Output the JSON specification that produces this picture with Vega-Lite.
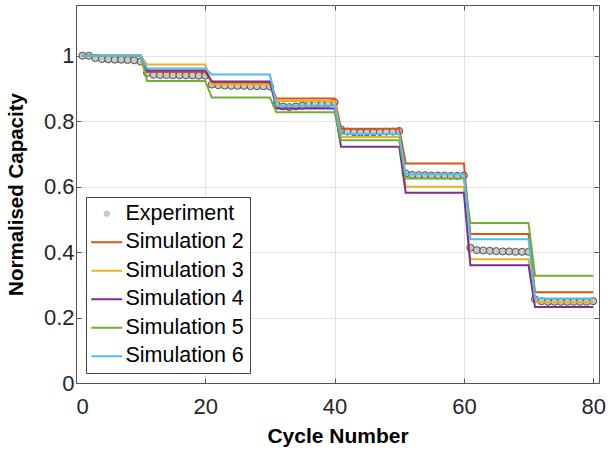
{
  "$schema": "https://vega.github.io/schema/vega-lite/v6.json",
  "width": 523,
  "height": 378,
  "autosize": "none",
  "padding": {"left": 76, "top": 5, "right": 9, "bottom": 69},
  "background": "white",
  "config": {
    "font": "Liberation Sans",
    "view": {"stroke": "#555555", "strokeWidth": 1},
    "axis": {
      "labelFont": "Liberation Sans",
      "titleFont": "Liberation Sans",
      "labelColor": "#262626",
      "titleColor": "#000000",
      "domainColor": "#555555",
      "tickColor": "#555555",
      "gridColor": "#e3e3e3",
      "gridWidth": 1
    }
  },
  "datasets": {
    "experiment": [
      {"cycle": 1, "capacity": 1.0}, {"cycle": 2, "capacity": 1.0}, {"cycle": 3, "capacity": 0.993}, {"cycle": 4, "capacity": 0.99}, {"cycle": 5, "capacity": 0.989},
      {"cycle": 6, "capacity": 0.988}, {"cycle": 7, "capacity": 0.988}, {"cycle": 8, "capacity": 0.987}, {"cycle": 9, "capacity": 0.986}, {"cycle": 10, "capacity": 0.982},
      {"cycle": 11, "capacity": 0.947}, {"cycle": 12, "capacity": 0.942}, {"cycle": 13, "capacity": 0.941}, {"cycle": 14, "capacity": 0.941}, {"cycle": 15, "capacity": 0.94},
      {"cycle": 16, "capacity": 0.94}, {"cycle": 17, "capacity": 0.94}, {"cycle": 18, "capacity": 0.94}, {"cycle": 19, "capacity": 0.939}, {"cycle": 20, "capacity": 0.939},
      {"cycle": 21, "capacity": 0.912}, {"cycle": 22, "capacity": 0.91}, {"cycle": 23, "capacity": 0.909}, {"cycle": 24, "capacity": 0.908}, {"cycle": 25, "capacity": 0.908},
      {"cycle": 26, "capacity": 0.908}, {"cycle": 27, "capacity": 0.907}, {"cycle": 28, "capacity": 0.907}, {"cycle": 29, "capacity": 0.907}, {"cycle": 30, "capacity": 0.906},
      {"cycle": 31, "capacity": 0.85}, {"cycle": 32, "capacity": 0.845}, {"cycle": 33, "capacity": 0.843}, {"cycle": 34, "capacity": 0.845}, {"cycle": 35, "capacity": 0.847},
      {"cycle": 36, "capacity": 0.85}, {"cycle": 37, "capacity": 0.852}, {"cycle": 38, "capacity": 0.85}, {"cycle": 39, "capacity": 0.853}, {"cycle": 40, "capacity": 0.858},
      {"cycle": 41, "capacity": 0.775}, {"cycle": 42, "capacity": 0.768}, {"cycle": 43, "capacity": 0.766}, {"cycle": 44, "capacity": 0.765}, {"cycle": 45, "capacity": 0.766},
      {"cycle": 46, "capacity": 0.766}, {"cycle": 47, "capacity": 0.767}, {"cycle": 48, "capacity": 0.768}, {"cycle": 49, "capacity": 0.768}, {"cycle": 50, "capacity": 0.77},
      {"cycle": 51, "capacity": 0.64}, {"cycle": 52, "capacity": 0.636}, {"cycle": 53, "capacity": 0.635}, {"cycle": 54, "capacity": 0.635}, {"cycle": 55, "capacity": 0.634},
      {"cycle": 56, "capacity": 0.634}, {"cycle": 57, "capacity": 0.634}, {"cycle": 58, "capacity": 0.633}, {"cycle": 59, "capacity": 0.633}, {"cycle": 60, "capacity": 0.634},
      {"cycle": 61, "capacity": 0.413}, {"cycle": 62, "capacity": 0.406}, {"cycle": 63, "capacity": 0.405}, {"cycle": 64, "capacity": 0.404}, {"cycle": 65, "capacity": 0.403},
      {"cycle": 66, "capacity": 0.402}, {"cycle": 67, "capacity": 0.402}, {"cycle": 68, "capacity": 0.401}, {"cycle": 69, "capacity": 0.401}, {"cycle": 70, "capacity": 0.401},
      {"cycle": 71, "capacity": 0.256}, {"cycle": 72, "capacity": 0.25}, {"cycle": 73, "capacity": 0.248}, {"cycle": 74, "capacity": 0.248}, {"cycle": 75, "capacity": 0.248},
      {"cycle": 76, "capacity": 0.248}, {"cycle": 77, "capacity": 0.248}, {"cycle": 78, "capacity": 0.248}, {"cycle": 79, "capacity": 0.248}, {"cycle": 80, "capacity": 0.25}
    ],
    "simulation": [
      {"series": "Simulation 2", "cycle": 1, "capacity": 1.0}, {"series": "Simulation 2", "cycle": 10, "capacity": 1.0},
      {"series": "Simulation 2", "cycle": 11, "capacity": 0.95}, {"series": "Simulation 2", "cycle": 20, "capacity": 0.95},
      {"series": "Simulation 2", "cycle": 21, "capacity": 0.918}, {"series": "Simulation 2", "cycle": 30, "capacity": 0.918},
      {"series": "Simulation 2", "cycle": 31, "capacity": 0.869}, {"series": "Simulation 2", "cycle": 40, "capacity": 0.869},
      {"series": "Simulation 2", "cycle": 41, "capacity": 0.777}, {"series": "Simulation 2", "cycle": 50, "capacity": 0.777},
      {"series": "Simulation 2", "cycle": 51, "capacity": 0.671}, {"series": "Simulation 2", "cycle": 60, "capacity": 0.671},
      {"series": "Simulation 2", "cycle": 61, "capacity": 0.455}, {"series": "Simulation 2", "cycle": 70, "capacity": 0.455},
      {"series": "Simulation 2", "cycle": 71, "capacity": 0.277}, {"series": "Simulation 2", "cycle": 80, "capacity": 0.277},
      {"series": "Simulation 3", "cycle": 1, "capacity": 1.0}, {"series": "Simulation 3", "cycle": 10, "capacity": 1.0},
      {"series": "Simulation 3", "cycle": 11, "capacity": 0.973}, {"series": "Simulation 3", "cycle": 20, "capacity": 0.973},
      {"series": "Simulation 3", "cycle": 21, "capacity": 0.912}, {"series": "Simulation 3", "cycle": 30, "capacity": 0.912},
      {"series": "Simulation 3", "cycle": 31, "capacity": 0.862}, {"series": "Simulation 3", "cycle": 40, "capacity": 0.862},
      {"series": "Simulation 3", "cycle": 41, "capacity": 0.752}, {"series": "Simulation 3", "cycle": 50, "capacity": 0.752},
      {"series": "Simulation 3", "cycle": 51, "capacity": 0.6}, {"series": "Simulation 3", "cycle": 60, "capacity": 0.6},
      {"series": "Simulation 3", "cycle": 61, "capacity": 0.378}, {"series": "Simulation 3", "cycle": 70, "capacity": 0.378},
      {"series": "Simulation 3", "cycle": 71, "capacity": 0.247}, {"series": "Simulation 3", "cycle": 80, "capacity": 0.247},
      {"series": "Simulation 4", "cycle": 1, "capacity": 1.0}, {"series": "Simulation 4", "cycle": 10, "capacity": 1.0},
      {"series": "Simulation 4", "cycle": 11, "capacity": 0.955}, {"series": "Simulation 4", "cycle": 20, "capacity": 0.955},
      {"series": "Simulation 4", "cycle": 21, "capacity": 0.921}, {"series": "Simulation 4", "cycle": 30, "capacity": 0.921},
      {"series": "Simulation 4", "cycle": 31, "capacity": 0.839}, {"series": "Simulation 4", "cycle": 40, "capacity": 0.839},
      {"series": "Simulation 4", "cycle": 41, "capacity": 0.722}, {"series": "Simulation 4", "cycle": 50, "capacity": 0.722},
      {"series": "Simulation 4", "cycle": 51, "capacity": 0.581}, {"series": "Simulation 4", "cycle": 60, "capacity": 0.581},
      {"series": "Simulation 4", "cycle": 61, "capacity": 0.36}, {"series": "Simulation 4", "cycle": 70, "capacity": 0.36},
      {"series": "Simulation 4", "cycle": 71, "capacity": 0.232}, {"series": "Simulation 4", "cycle": 80, "capacity": 0.232},
      {"series": "Simulation 5", "cycle": 1, "capacity": 1.0}, {"series": "Simulation 5", "cycle": 10, "capacity": 1.0},
      {"series": "Simulation 5", "cycle": 11, "capacity": 0.923}, {"series": "Simulation 5", "cycle": 20, "capacity": 0.923},
      {"series": "Simulation 5", "cycle": 21, "capacity": 0.872}, {"series": "Simulation 5", "cycle": 30, "capacity": 0.872},
      {"series": "Simulation 5", "cycle": 31, "capacity": 0.827}, {"series": "Simulation 5", "cycle": 40, "capacity": 0.827},
      {"series": "Simulation 5", "cycle": 41, "capacity": 0.742}, {"series": "Simulation 5", "cycle": 50, "capacity": 0.742},
      {"series": "Simulation 5", "cycle": 51, "capacity": 0.625}, {"series": "Simulation 5", "cycle": 60, "capacity": 0.625},
      {"series": "Simulation 5", "cycle": 61, "capacity": 0.489}, {"series": "Simulation 5", "cycle": 70, "capacity": 0.489},
      {"series": "Simulation 5", "cycle": 71, "capacity": 0.328}, {"series": "Simulation 5", "cycle": 80, "capacity": 0.328},
      {"series": "Simulation 6", "cycle": 1, "capacity": 1.0}, {"series": "Simulation 6", "cycle": 10, "capacity": 1.0},
      {"series": "Simulation 6", "cycle": 11, "capacity": 0.961}, {"series": "Simulation 6", "cycle": 20, "capacity": 0.961},
      {"series": "Simulation 6", "cycle": 21, "capacity": 0.943}, {"series": "Simulation 6", "cycle": 30, "capacity": 0.943},
      {"series": "Simulation 6", "cycle": 31, "capacity": 0.847}, {"series": "Simulation 6", "cycle": 40, "capacity": 0.847},
      {"series": "Simulation 6", "cycle": 41, "capacity": 0.761}, {"series": "Simulation 6", "cycle": 50, "capacity": 0.761},
      {"series": "Simulation 6", "cycle": 51, "capacity": 0.638}, {"series": "Simulation 6", "cycle": 60, "capacity": 0.638},
      {"series": "Simulation 6", "cycle": 61, "capacity": 0.439}, {"series": "Simulation 6", "cycle": 70, "capacity": 0.439},
      {"series": "Simulation 6", "cycle": 71, "capacity": 0.258}, {"series": "Simulation 6", "cycle": 80, "capacity": 0.258}
    ]
  },
  "resolve": {"axis": {"x": "independent", "y": "independent"}, "legend": {"color": "independent"}},
  "layer": [
    {
      "data": {"name": "experiment"},
      "transform": [{"calculate": "'Experiment'", "as": "series"}],
      "mark": {"type": "point", "filled": true, "size": 50, "stroke": "#505050", "strokeWidth": 1, "opacity": 1},
      "encoding": {
        "x": {
          "field": "cycle", "type": "quantitative",
          "scale": {"domain": [0, 80.9], "nice": false, "zero": false},
          "axis": {
            "title": "Cycle Number", "titleFontSize": 21, "titleFontWeight": "bold", "titlePadding": 8,
            "values": [0, 20, 40, 60, 80], "format": "d",
            "labelFontSize": 22, "labelPadding": 18, "tickSize": -5, "domain": true, "grid": true
          }
        },
        "y": {
          "field": "capacity", "type": "quantitative",
          "scale": {"domain": [0, 1.155], "nice": false, "zero": false},
          "axis": {
            "title": "Normalised Capacity", "titleFontSize": 20.5, "titleFontWeight": "bold", "titlePadding": 17,
            "values": [0, 0.2, 0.4, 0.6, 0.8, 1], "format": "~g",
            "labelFontSize": 22, "labelPadding": 7, "tickSize": -5, "domain": true, "grid": true
          }
        },
        "color": {
          "field": "series", "type": "nominal",
          "scale": {
            "domain": ["Experiment", "Simulation 2", "Simulation 3", "Simulation 4", "Simulation 5", "Simulation 6"],
            "range": ["#c8c8c8", "#D95319", "#EDB120", "#7E2F8E", "#77AC30", "#4DBEEE"]
          },
          "legend": null
        }
      }
    },
    {
      "data": {"name": "simulation"},
      "mark": {"type": "line", "strokeWidth": 2},
      "encoding": {
        "x": {
          "field": "cycle", "type": "quantitative",
          "axis": {"orient": "top", "title": null, "labels": false, "grid": false, "domain": false, "tickSize": -5, "values": [0, 20, 40, 60, 80]}
        },
        "y": {
          "field": "capacity", "type": "quantitative",
          "axis": {"orient": "right", "title": null, "labels": false, "grid": false, "domain": false, "tickSize": -5, "values": [0, 0.2, 0.4, 0.6, 0.8, 1]}
        },
        "color": {
          "field": "series", "type": "nominal",
          "legend": {
            "title": null,
            "orient": "none",
            "legendX": 10,
            "legendY": 192,
            "direction": "vertical",
            "fillColor": "white",
            "strokeColor": "#444444",
            "padding": 6,
            "rowPadding": 5.5,
            "labelFont": "Liberation Sans",
            "labelFontSize": 21.5,
            "labelColor": "#000000",
            "labelOffset": 8,
            "symbolOffset": 4,
            "symbolType": "stroke",
            "symbolSize": 961,
            "symbolStrokeWidth": 2,
            "encode": {
              "symbols": {
                "update": {
                  "shape": {"signal": "datum.value === 'Experiment' ? 'circle' : 'stroke'"},
                  "size": {"signal": "datum.value === 'Experiment' ? 30 : 961"},
                  "fill": {"signal": "datum.value === 'Experiment' ? '#c8c8c8' : 'transparent'"},
                  "stroke": {"signal": "datum.value === 'Experiment' ? '#505050' : scale('color', datum.value)"},
                  "strokeWidth": {"signal": "datum.value === 'Experiment' ? 1 : 2"}
                }
              }
            }
          }
        },
        "order": {"field": "cycle", "type": "quantitative"}
      }
    }
  ]
}
